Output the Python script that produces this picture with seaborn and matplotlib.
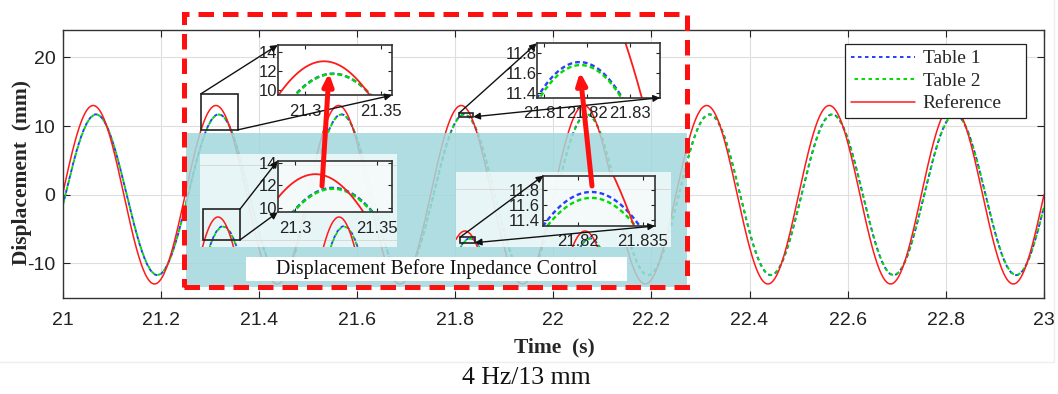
import numpy as np
import pandas as pd
import matplotlib
matplotlib.use("Agg")
import matplotlib.pyplot as plt
import seaborn as sns
from matplotlib.patches import Rectangle, FancyArrowPatch, ConnectionPatch
from matplotlib.lines import Line2D

# ---------------- data ----------------
series_names = ["Table 1", "Table 2", "Reference"]
series_colors = ["#2a3cff", "#00dc00", "#ff1a1a"]
drive_freq_hz = 4.0                      # 4 Hz excitation
time_window_s = [21.0, 23.0]
amp_after_mm = [11.71, 11.68, 13.0]      # peak displacement with impedance control
lag_after_s = [0.0058, 0.0060, 0.0]      # time lag of each series
amp_before_mm = [11.78, 11.70, 13.0]     # peak displacement before impedance control
lag_before_s = [0.0106, 0.0106, 0.0]

x_ticks = [21.0, 21.2, 21.4, 21.6, 21.8, 22.0, 22.2, 22.4, 22.6, 22.8, 23.0]
x_tick_labels = ["21", "21.2", "21.4", "21.6", "21.8", "22", "22.2", "22.4", "22.6", "22.8", "23"]
y_ticks = [-10, 0, 10, 20]
y_tick_labels = ["-10", "0", "10", "20"]

zoom_a_x_ticks = [21.3, 21.35]
zoom_a_x_labels = ["21.3", "21.35"]
zoom_a_y_ticks = [10, 12, 14]
zoom_a_y_labels = ["10", "12", "14"]
zoom_b_x_ticks = [21.81, 21.82, 21.83]
zoom_b_x_labels = ["21.81", "21.82", "21.83"]
zoom_b_y_ticks = [11.4, 11.6, 11.8]
zoom_b_y_labels = ["11.4", "11.6", "11.8"]
zoom_c_x_ticks = [21.82, 21.835]
zoom_c_x_labels = ["21.82", "21.835"]

# ---------------- build long-form tables ----------------
t = np.linspace(time_window_s[0], time_window_s[1], 16001)


def build_frame(amps, lags):
    rows = []
    for name, a, lag in zip(series_names, amps, lags):
        d = a * np.sin(2 * np.pi * drive_freq_hz * (t - time_window_s[0] - lag))
        rows.append(pd.DataFrame({"time": t, "disp": d, "series": name}))
    return pd.concat(rows, ignore_index=True)


df_after = build_frame(amp_after_mm, lag_after_s)
df_before = build_frame(amp_before_mm, lag_before_s)

# ---------------- style ----------------
sns.set_style("ticks")
SANS = ["Liberation Sans", "DejaVu Sans"]
SERIF = ["Liberation Serif", "DejaVu Serif"]
plt.rcParams["font.family"] = SANS

W, H = 1058, 394
fig = plt.figure(figsize=(W / 100, H / 100), dpi=100)
fig.patch.set_facecolor("white")


def fy(y):
    return 1 - y / H


def add_axes_px(x0, y0, x1, y1, z):
    a = fig.add_axes([x0 / W, 1 - y1 / H, (x1 - x0) / W, (y1 - y0) / H])
    a.set_zorder(z)
    return a


def draw_series(a, df, red_lw, dash_lw, dash, alternate=True):
    for i, name in enumerate(series_names):
        sub = df[df["series"] == name]
        if name == "Reference":
            ls, lw = "-", red_lw
        else:
            off = dash[0] * i if alternate else 0
            ls, lw = (off, dash), dash_lw
        sns.lineplot(data=sub, x="time", y="disp", ax=a, color=series_colors[i],
                     linestyle=ls, linewidth=lw, estimator=None, errorbar=None,
                     sort=False, legend=False)
    a.set_xlabel("")
    a.set_ylabel("")


# ---------------- main axes ----------------
ax = add_axes_px(62.5, 30, 1044, 297.7, 0)
draw_series(ax, df_after, 1.1, 1.4, (1.8, 1.8))
ax.set_xlim(time_window_s)
ax.set_ylim(-15, 24)
ax.set_xticks(x_ticks)
ax.set_xticklabels(x_tick_labels)
ax.set_yticks(y_ticks)
ax.set_yticklabels(y_tick_labels)
ax.grid(True, color="#dedede", linewidth=0.8)
ax.set_axisbelow(True)
ax.tick_params(direction="in", top=True, right=True, length=5, width=0.8,
               labelsize=14, colors="#222222")
ax.tick_params(axis="x", pad=10)
ax.tick_params(axis="y", pad=5)
for s in ax.spines.values():
    s.set_visible(True)
    s.set_color("#333333")
    s.set_linewidth(1.0)
ax.set_xlabel("Time  (s)", fontfamily=SERIF, fontweight="bold", fontsize=15.5)
ax.set_ylabel("Displacement  (mm)", fontfamily=SERIF, fontweight="bold", fontsize=15.5)
ax.xaxis.set_label_coords(0.5008, -0.147)
ax.yaxis.set_label_coords(-0.031, 0.467)

handles = ax.get_lines()[:3]
leg = ax.legend(handles, series_names, loc="upper left",
                bbox_to_anchor=(0.797, 0.657, 0.185, 0.291), mode="expand",
                borderaxespad=0, prop={"family": SERIF, "size": 14},
                handlelength=3.3, handletextpad=0.4, labelspacing=0.25,
                borderpad=0.3, frameon=True, fancybox=False, framealpha=1,
                edgecolor="#222222")
leg.get_frame().set_linewidth(0.9)

# zoom source rectangles on main axes
zoom_a_xlim, zoom_a_ylim = (21.282, 21.357), (9.45, 14.7)
zoom_b_xlim, zoom_b_ylim = (21.8083, 21.837), (11.35, 11.9)
for xl, yl in [(zoom_a_xlim, zoom_a_ylim), (zoom_b_xlim, zoom_b_ylim)]:
    ax.add_patch(Rectangle((xl[0], yl[0]), xl[1] - xl[0], yl[1] - yl[0],
                           fill=False, edgecolor="#222222", linewidth=1.2, zorder=5))

# ---------------- overlay: teal "before" region ----------------
fig.add_artist(Rectangle((186 / W, fy(287)), (687 - 186) / W, (287 - 133) / H,
                         transform=fig.transFigure, facecolor="#a3d8dd", alpha=0.85,
                         edgecolor="none", zorder=1))


def style_inset(a, xlim, ylim, xt, xl, yt, yl, face, alpha, ypad):
    a.set_xlim(xlim)
    a.set_ylim(ylim)
    a.set_xticks(xt)
    a.set_xticklabels(xl)
    a.set_yticks(yt)
    a.set_yticklabels(yl)
    a.tick_params(direction="in", top=True, right=True, length=3, width=0.8,
                  labelsize=12, colors="#222222")
    a.tick_params(axis="x", pad=6)
    a.tick_params(axis="y", pad=ypad)
    a.grid(False)
    for s in a.spines.values():
        s.set_visible(True)
        s.set_color("#333333")
        s.set_linewidth(1.2)
    a.patch.set_facecolor(face)
    a.patch.set_alpha(alpha)


def mini_panel(x0, y0, x1, y1, xlim, ylim):
    a = add_axes_px(x0, y0, x1, y1, 2)
    draw_series(a, df_before, 1.1, 1.3, (1.8, 1.8))
    a.set_xlim(xlim)
    a.set_ylim(ylim)
    for yv in (10, 20):
        a.axhline(yv, color="#d5d5d5", linewidth=0.6, zorder=0)
    a.set_xticks([])
    a.set_yticks([])
    for s in a.spines.values():
        s.set_visible(False)
    a.patch.set_facecolor("white")
    a.patch.set_alpha(0.72)
    return a


def connect(a_from, xy_from, a_to, xy_to, style="-|>"):
    con = ConnectionPatch(xyA=xy_from, coordsA="data", axesA=a_from,
                          xyB=xy_to, coordsB="axes fraction", axesB=a_to,
                          arrowstyle=style, mutation_scale=10, linewidth=1.0,
                          color="#111111", shrinkA=0, shrinkB=0)
    con.set_zorder(6)
    fig.add_artist(con)


# lower panel 1 (before control, around 21.31 s)
p1 = mini_panel(200, 154, 397, 247, (21.2753, 21.6823), (9.0, 21.4))
p1.add_patch(Rectangle((21.282, 9.93), 0.0757, 4.1, fill=False,
                       edgecolor="#222222", linewidth=1.2, zorder=5))
in1 = add_axes_px(277.7, 160.7, 392.3, 212.3, 3)
draw_series(in1, df_before, 1.3, 1.7, (2.0, 1.3), alternate=False)
style_inset(in1, (21.2894, 21.3595), (9.6, 14.2), zoom_a_x_ticks, zoom_a_x_labels,
            zoom_a_y_ticks, zoom_a_y_labels, "white", 0.55, 0.5)
connect(p1, (21.3577, 14.03), in1, (0, 1))
connect(p1, (21.3577, 9.93), in1, (0, 0))

# lower panel 2 (before control, around 21.82 s)
p2 = mini_panel(456, 172.3, 671, 247.3, (21.7938, 22.2417), (10.28, 22.8))
p2.add_patch(Rectangle((21.802, 11.05), 0.031, 0.9, fill=False,
                       edgecolor="#222222", linewidth=1.2, zorder=5))
in2 = add_axes_px(543.3, 175.7, 655, 226, 3)
draw_series(in2, df_before, 1.3, 1.7, (2.0, 1.3), alternate=False)
style_inset(in2, (21.812, 21.8378), (11.32, 12.0), zoom_c_x_ticks, zoom_c_x_labels,
            zoom_b_y_ticks, zoom_b_y_labels, "white", 0.55, 2.5)
connect(p2, (21.802, 11.95), in2, (0, 1))
connect(p2, (21.833, 11.05), in2, (1, 0), "<|-|>")

# label box
fig.add_artist(Rectangle((246 / W, fy(281)), (627 - 246) / W, 24 / H,
                         transform=fig.transFigure, facecolor="white",
                         edgecolor="none", zorder=4))
fig.text(436.5 / W, fy(269.5), "Displacement Before Inpedance Control",
         ha="center", va="center", fontfamily=SERIF, fontsize=14.3,
         color="#111111", zorder=4.5)

# ---------------- upper zoom insets (after control) ----------------
up1 = add_axes_px(277.7, 45, 391.7, 95.3, 5)
draw_series(up1, df_after, 1.3, 1.7, (2.0, 1.3), alternate=False)
style_inset(up1, zoom_a_xlim, zoom_a_ylim, zoom_a_x_ticks, zoom_a_x_labels,
            zoom_a_y_ticks, zoom_a_y_labels, "white", 1.0, 0.5)
connect(ax, (zoom_a_xlim[0], zoom_a_ylim[1]), up1, (0, 1))
connect(ax, (zoom_a_xlim[1], zoom_a_ylim[0]), up1, (1, 0))

up2 = add_axes_px(536.7, 43.3, 660, 97.7, 5)
draw_series(up2, df_after, 1.3, 1.7, (2.0, 1.3), alternate=False)
style_inset(up2, zoom_b_xlim, zoom_b_ylim, zoom_b_x_ticks, zoom_b_x_labels,
            zoom_b_y_ticks, zoom_b_y_labels, "white", 1.0, 0.3)
connect(ax, (zoom_b_xlim[0], zoom_b_ylim[1]), up2, (0, 1))
connect(ax, (zoom_b_xlim[1], zoom_b_ylim[0]), up2, (1, 0), "<|-|>")

# ---------------- red arrows and dashed frame ----------------
for (xa, ya), (xb, yb) in [((322, 186), (329, 73)), ((592, 186), (580, 72))]:
    arr = FancyArrowPatch((xa / W, fy(ya)), (xb / W, fy(yb)), transform=fig.transFigure,
                          arrowstyle="-|>,head_length=0.35,head_width=0.15",
                          mutation_scale=20, linewidth=3.6, color="#ff1010",
                          shrinkA=0, shrinkB=0, zorder=7)
    fig.add_artist(arr)

fig.add_artist(Rectangle((184 / W, fy(287)), (687 - 184) / W, (287 - 14) / H,
                         transform=fig.transFigure, fill=False, edgecolor="#ff1010",
                         linewidth=3.6, linestyle=(0, (3.1, 1.8)), zorder=8))

# faint page separators and caption
fig.add_artist(Line2D([0, 1054 / W], [fy(362), fy(362)], transform=fig.transFigure,
                      color="#eeeeee", linewidth=1.0, zorder=0))
fig.add_artist(Line2D([1054 / W, 1054 / W], [fy(362), 1], transform=fig.transFigure,
                      color="#eeeeee", linewidth=1.0, zorder=0))
fig.text(526 / W, fy(378), "4 Hz/13 mm", ha="center", va="center",
         fontfamily=SERIF, fontsize=18.5, color="#111111")

fig.savefig("out.png", dpi=100)
